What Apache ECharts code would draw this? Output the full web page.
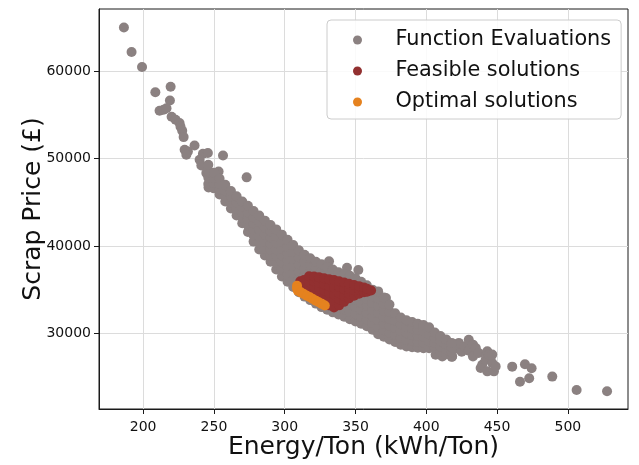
<!DOCTYPE html>
<html><head><meta charset="utf-8">
<script src="https://cdn.jsdelivr.net/npm/echarts@6/dist/echarts.min.js"></script>
<style>html,body{margin:0;padding:0;background:#fff}#c{width:639px;height:465px}</style>
</head><body><div id="c"></div>
<script>
const xTicks = [200, 250, 300, 350, 400, 450, 500];
const yTicks = [30000, 40000, 50000, 60000];
const seriesNames = ['Function Evaluations', 'Feasible solutions', 'Optimal solutions'];

// Function evaluations: scattered points [energy, price]
const evalScattered = [
  [186.4,65030],[191.8,62210],[199.2,60490],[208.6,57600],[219.4,58240],[218.9,56670],
  [211.6,55480],[214.4,55600],[216.5,55770],[220.1,54800],[222.9,54450],[225.7,54080],
  [226.4,53650],[227.6,53190],[228.6,52470],[229.3,51020],[231.6,50820],[230.5,50440],
  [236.3,51510],[242.2,50560],[245.7,50640],[239.9,49870],[241.1,49220],[244.6,48350],
  [253.3,48530],[256.4,50360],[246.2,46700],[251.7,47380],[273.1,47860],
  [331.3,38240],[344,37500],[352,37250],[371.5,34040],
  [409,27740],[406.6,27550],[411.3,27350],[416,28320],[418.3,27350],
  [421,28300],[423,28900],[425,27900],[427,28500],[430,29270],[430,28000],[433,28700],
  [433,27350],[435,28320],[437,27740],[438.4,26020],[439.5,26400],[441.9,26980],
  [442.6,27720],[443.1,27930],[443.1,25640],[444.3,27550],[446.6,26600],[446.6,27560],
  [447.8,25640],[449,26210],[460.7,26180],[469.7,26460],[474.4,26000],[472.7,24850],
  [466.2,24460],[489,25040],[506.2,23510],[527.7,23360]
];
// Function evaluations: dense band, columns of [energy, [prices]]
const evalBand = [
  [246,[47100,47830,48570,49300]],
  [250,[46600,47200,47800,48400]],
  [254,[45900,46500,47100,47700]],
  [258,[45100,45730,46370,47000]],
  [262,[44300,44970,45630,46300]],
  [266,[43500,44230,44970,45700]],
  [270,[42600,43230,43850,44480,45100]],
  [274,[41600,42350,43100,43850,44600]],
  [278,[40500,41200,41900,42600,43300,44000]],
  [282,[39600,40380,41160,41940,42720,43500]],
  [286,[38900,39700,40500,41300,42100,42900]],
  [290,[38200,38900,39600,40300,41000,41700,42400]],
  [294,[37300,38070,38830,39600,40370,41130,41900]],
  [298,[36500,37300,38100,38900,39700,40500,41300]],
  [302,[35900,36700,37500,38300,39100,39900,40700]],
  [306,[35300,36100,36900,37700,38500,39300,40100]],
  [310,[34700,35500,36300,37100,37900,38700,39500]],
  [314,[34200,35000,35800,36600,37400,38200,39000]],
  [318,[33800,34600,35400,36200,37000,37800,38600]],
  [322,[33400,34200,35000,35800,36600,37400,38200]],
  [326,[33000,33820,34630,35450,36270,37080,37900]],
  [330,[32700,33520,34330,35150,35970,36780,37600]],
  [334,[32400,33220,34030,34850,35670,36480,37300]],
  [338,[32150,32960,33770,34580,35380,36190,37000]],
  [342,[31900,32720,33530,34350,35170,35980,36800]],
  [346,[31600,32430,33270,34100,34930,35770,36600]],
  [350,[31350,32180,33000,33830,34650,35480,36300]],
  [354,[31100,31900,32700,33500,34300,35100,35900]],
  [358,[30800,31580,32370,33150,33930,34720,35500]],
  [362,[30400,31170,31930,32700,33470,34230,35000]],
  [366,[29900,30720,31530,32350,33170,33980,34800]],
  [370,[29600,30350,31100,31850,32600,33350,34100]],
  [374,[29300,30100,30900,31700,32500,33300]],
  [378,[29000,29830,30650,31480,32300]],
  [382,[28700,29480,30250,31030,31800]],
  [386,[28500,29250,30000,30750,31500]],
  [390,[28400,29130,29850,30580,31300]],
  [394,[28350,29040,29730,30410,31100]],
  [398,[28300,28960,29630,30290,30950]],
  [402,[28300,29100,29900,30700]],
  [406,[28300,28900,29500,30100]],
  [410,[27900,28500,29100,29700]],
  [414,[27600,28170,28730,29300]],
  [418,[27300,27830,28370,28900]]
];
// Feasible solutions, columns of [energy, [prices]]
const feasibleBand = [
  [311,[35350,35950]],
  [313.6,[34800,35450,36100]],
  [317.2,[34500,35180,35860,36540]],
  [320.7,[34200,34780,35350,35930,36500]],
  [324.2,[33800,34460,35120,35770,36430]],
  [327.8,[33500,34200,34900,35600,36300]],
  [331.3,[33200,33900,34650,35400,36200]],
  [334.8,[32950,33700,34450,35250,36100]],
  [338.4,[33200,33900,34600,35300,35970]],
  [341.9,[33600,34300,35050,35830]],
  [345.4,[34000,34560,35120,35680]],
  [349,[34300,34920,35540]],
  [352.5,[34540,34970,35400]],
  [356,[34700,35250]],
  [358.2,[34770,35110]],
  [361,[34900]]
];
// Optimal solutions [energy, price]
const optimal = [
  [308.7,35450],[308.7,35150],[309.3,34880],[311.4,34690],[313.5,34500],[315.6,34310],
  [317.8,34120],[319.9,33930],[322,33740],[324.1,33560],[326.2,33370],[328.3,33180]
];

const colsToPairs = cols => cols.flatMap(([x, ys]) => ys.map(y => [x, y]));
const FONT = "'DejaVu Sans', sans-serif";
const colors = ['#8b8181', '#923030', '#e5821f'];

const chart = echarts.init(document.getElementById('c'), null, {renderer: 'canvas'});
const mkSeries = (name, data, color) => ({
  name, type: 'scatter', data, symbol: 'circle', symbolSize: 10,
  itemStyle: {color, opacity: 1}, emphasis: {disabled: true}, silent: true
});
chart.setOption({
  animation: false,
  backgroundColor: '#ffffff',
  grid: {left: 99, right: 11, top: 9, bottom: 56, show: true, borderColor: '#1a1a1a', borderWidth: 1, backgroundColor: 'transparent'},
  legend: {
    left: 327, top: 20, orient: 'vertical',
    padding: [8, 10, 5, 26], itemWidth: 20, itemHeight: 9, itemGap: 7,
    backgroundColor: 'rgba(255,255,255,0.85)', borderColor: '#cccccc', borderWidth: 1, borderRadius: 4,
    textStyle: {fontSize: 20.8, fontFamily: FONT, color: '#111', lineHeight: 24, padding: [0, 0, 0, 23]},
    data: seriesNames.map(n => ({name: n, icon: 'circle'})),
    selectedMode: false
  },
  xAxis: {
    type: 'value', min: 168.8, max: 542.5,
    name: 'Energy/Ton (kWh/Ton)', nameLocation: 'middle', nameGap: 26, nameMoveOverlap: false,
    nameTextStyle: {fontSize: 25, fontFamily: FONT, color: '#111'},
    axisLine: {show: true, onZero: false, lineStyle: {color: '#1a1a1a', width: 1}},
    axisTick: {show: true, customValues: xTicks, length: 5, lineStyle: {color: '#1a1a1a'}},
    axisLabel: {customValues: xTicks, fontSize: 14, fontFamily: FONT, color: '#111', margin: 11, formatter: v => String(v)},
    splitLine: {show: true, lineStyle: {color: '#dcdcdc', width: 1}}
  },
  yAxis: {
    type: 'value', min: 21330, max: 67140,
    name: 'Scrap Price (£)', nameLocation: 'middle', nameGap: 53, nameMoveOverlap: false,
    nameTextStyle: {fontSize: 25, fontFamily: FONT, color: '#111'},
    axisLine: {show: true, onZero: false, lineStyle: {color: '#1a1a1a', width: 1}},
    axisTick: {show: true, customValues: yTicks, length: 5, lineStyle: {color: '#1a1a1a'}},
    axisLabel: {customValues: yTicks, fontSize: 14, fontFamily: FONT, color: '#111', margin: 8, formatter: v => String(v)},
    splitLine: {show: true, lineStyle: {color: '#dcdcdc', width: 1}}
  },
  series: [
    mkSeries(seriesNames[0], evalScattered.concat(colsToPairs(evalBand)), colors[0]),
    mkSeries(seriesNames[1], colsToPairs(feasibleBand), colors[1]),
    mkSeries(seriesNames[2], optimal, colors[2])
  ]
});
</script>
</body></html>
